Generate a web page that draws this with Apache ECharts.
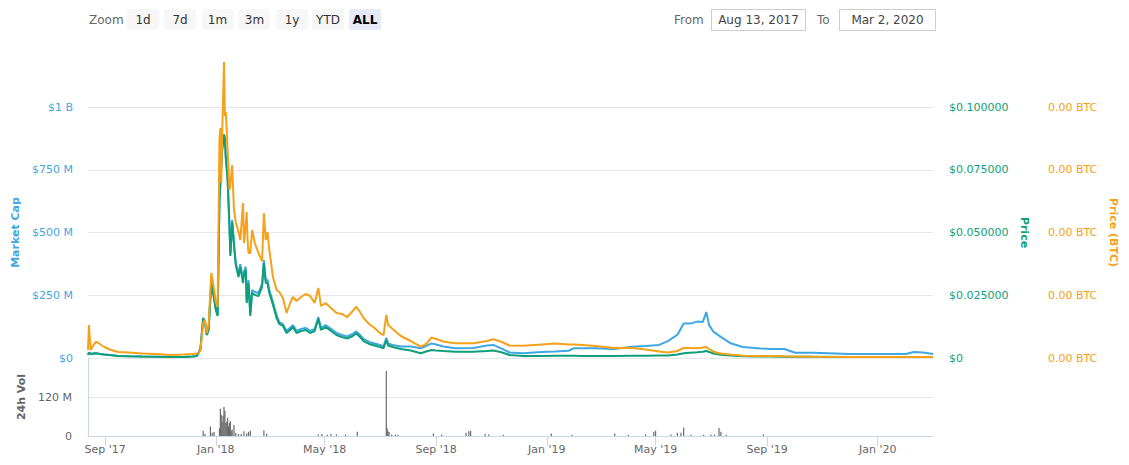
<!DOCTYPE html>
<html><head><meta charset="utf-8">
<script src="https://cdn.jsdelivr.net/npm/echarts@6/dist/echarts.min.js"></script>
<style>html,body{margin:0;padding:0;background:#fff}#c{width:1129px;height:465px}</style>
</head><body><div id="c"></div>
<script>
// ---- data ----
const dates = ['2017-08-13','2017-08-14','2017-08-16','2017-08-19','2017-08-22','2017-08-26','2017-08-31','2017-09-06','2017-09-15','2017-09-27',
'2017-10-12','2017-10-27','2017-11-11','2017-11-26','2017-12-06','2017-12-11','2017-12-15','2017-12-18','2017-12-20','2017-12-22',
'2017-12-24','2017-12-27','2017-12-29','2018-01-01','2018-01-03','2018-01-05','2018-01-06','2018-01-07','2018-01-08','2018-01-10',
'2018-01-11','2018-01-12','2018-01-14','2018-01-16','2018-01-17','2018-01-19','2018-01-21','2018-01-23','2018-01-26','2018-01-28',
'2018-01-31','2018-02-01','2018-02-03','2018-02-04','2018-02-05','2018-02-06','2018-02-08','2018-02-10','2018-02-13','2018-02-17',
'2018-02-21','2018-02-23','2018-02-25','2018-02-27','2018-03-01','2018-03-05','2018-03-09','2018-03-12','2018-03-16','2018-03-20',
'2018-03-24','2018-03-27','2018-03-31','2018-04-05','2018-04-10','2018-04-15','2018-04-20','2018-04-24','2018-04-27','2018-05-02',
'2018-05-08','2018-05-14','2018-05-20','2018-05-26','2018-06-01','2018-06-05','2018-06-09','2018-06-13','2018-06-19','2018-06-25',
'2018-07-01','2018-07-05','2018-07-08','2018-07-10','2018-07-15','2018-07-24','2018-08-04','2018-08-15','2018-08-21','2018-08-27',
'2018-09-01','2018-09-09','2018-09-22','2018-10-12','2018-10-27','2018-11-03','2018-11-11','2018-11-21','2018-12-06','2018-12-26',
'2019-01-10','2019-01-25','2019-01-31','2019-02-09','2019-02-24','2019-03-16','2019-04-05','2019-04-20','2019-05-05','2019-05-15',
'2019-05-25','2019-06-01','2019-06-08','2019-06-16','2019-06-22','2019-06-26','2019-06-29','2019-07-04','2019-07-12','2019-07-22',
'2019-08-05','2019-08-25','2019-09-05','2019-09-20','2019-10-02','2019-10-22','2019-12-01','2020-01-10','2020-02-01','2020-02-10',
'2020-02-20','2020-03-02'];

// Market cap, millions of USD
const marketCapM = [12,22,16,18,18.7,16,14,12,8,6.8,
5.6,4.8,4,4,6,8,35.9,159,143,92,
112,303,263,195,171,633,693,773,833,892,
872,801,713,530,414,550,458,378,335,374,
311,343,363,231,263,311,179,271,263,259,
295,390,311,311,271,223,171,143,135,108,
120,131,108,116,120,108,116,163,120,131,
116,100,92,86,96,106,92,76,64,58,
52,47,80,58,52,46,46,39,48,58,
54,46,39,40,50,52,39,22,19,24,
26,29,39,39,39,36,45,48,52,68,
92,137,137,145,143,183,131,104,84,60,
44,38,36,36,21,21,16,16,16,24,
22,16];

// Price, USD
const priceUsd = [0.00120,0.00219,0.00159,0.00179,0.00187,0.00159,0.00139,0.00120,0.00080,0.00068,
0.00056,0.00048,0.00040,0.00040,0.00060,0.00080,0.00359,0.01594,0.01434,0.00916,
0.01116,0.02988,0.02590,0.01912,0.01673,0.06295,0.06892,0.07689,0.08287,0.08884,
0.08685,0.07968,0.07092,0.05259,0.04064,0.05418,0.04502,0.03705,0.03227,0.03625,
0.02988,0.03307,0.03506,0.02191,0.02510,0.02988,0.01673,0.02590,0.02510,0.02470,
0.02829,0.03785,0.02988,0.02988,0.02590,0.02112,0.01594,0.01355,0.01275,0.00996,
0.01116,0.01235,0.00996,0.01076,0.01116,0.00996,0.01076,0.01554,0.01116,0.01235,
0.01076,0.00916,0.00837,0.00777,0.00876,0.00984,0.00837,0.00677,0.00558,0.00498,
0.00438,0.00386,0.00717,0.00498,0.00438,0.00359,0.00299,0.00187,0.00259,0.00319,
0.00299,0.00279,0.00251,0.00251,0.00279,0.00299,0.00239,0.00120,0.00080,0.00080,
0.00092,0.00088,0.00088,0.00084,0.00080,0.00080,0.00092,0.00092,0.00100,0.00100,
0.00139,0.00187,0.00207,0.00227,0.00247,0.00279,0.00239,0.00179,0.00127,0.00100,
0.00068,0.00056,0.00056,0.00052,0.00052,0.00048,0.00040,0.00040,0.00040,0.00040,
0.00040,0.00040];

// Price in BTC, expressed in satoshi (1e-8 BTC)
const priceSat = [31.9,131.5,31.9,51.8,64.9,55.8,43.8,33.9,23.9,21.9,
17.9,15.9,12,13.9,15.9,17.9,27.9,139.4,151.4,99.6,
131.5,338.6,298.8,223.1,203.2,868.5,916.3,697.2,896.4,1179.3,
964.1,980.1,828.7,669.3,689.2,768.9,589.6,541.8,502,470.1,
617.5,458.2,529.9,581.7,470.1,418.3,418.3,510,458.2,418.3,
386.4,577.7,470.1,502,430.3,322.7,270.9,262.9,239,179.3,
219.1,243,227.1,243,255,247,219.1,278.9,207.2,219.1,
199.2,179.3,175.3,163.3,187.2,204.4,183.3,159.4,135.5,119.5,
99.6,91.6,171.3,131.5,115.5,87.6,67.7,45,55.8,81.7,
75.7,65.7,58.6,58.6,67.7,74.5,65.7,49.8,49,53.8,
57.8,53.8,53.4,51.8,47.8,39.8,39.8,33.9,25.9,21.9,
27.9,39.8,39.8,38.6,41.8,43.8,35.9,25.1,17.9,13.9,
9.2,8,7.6,6.8,6.4,5.2,4,4,4,4,
4,4];

// 24h volume, millions of USD
const volDates = ['2017-12-18','2017-12-20','2017-12-26','2017-12-28','2017-12-30','2018-01-05','2018-01-06','2018-01-07','2018-01-08','2018-01-09',
'2018-01-10','2018-01-11','2018-01-12','2018-01-13','2018-01-14','2018-01-15','2018-01-16','2018-01-17','2018-01-18','2018-01-19',
'2018-01-21','2018-01-23','2018-01-26','2018-01-29','2018-02-01','2018-02-04','2018-02-06','2018-02-08','2018-02-23','2018-02-26',
'2018-04-24','2018-04-28','2018-05-04','2018-05-08','2018-05-14','2018-05-24','2018-06-06','2018-07-08','2018-07-09','2018-07-10',
'2018-07-11','2018-07-14','2018-07-18','2018-07-21','2018-08-29','2018-09-07','2018-10-04','2018-10-07','2018-10-09','2018-10-25',
'2018-10-29','2018-11-14','2019-01-06','2019-01-29','2019-03-17','2019-04-01','2019-04-20','2019-04-29','2019-05-01','2019-05-18',
'2019-05-25','2019-05-29','2019-06-01','2019-06-09','2019-06-23','2019-07-01','2019-07-05','2019-07-10','2019-07-12','2019-07-18',
'2019-08-28'];
const volumeM = [16,6,29,10,12,24,84,65,44,62,
90,78,40,44,56,30,40,46,16,20,
34,10,6,6,15,8,13,16,18,7,
5,6,4,6,5,4,13,200,24,14,
12,5,4,4,8,4,10,15,16,6,
5,4,8,4,8,4,5,13,16,5,
10,10,26,4,4,5,4,25,13,4,
5];

// axis ticks and labels
const xTickDates = ['2017-09-01','2018-01-01','2018-05-01','2018-09-01','2019-01-01','2019-05-01','2019-09-01','2020-01-01'];
const xTickLabels = ["Sep '17","Jan '18","May '18","Sep '18","Jan '19","May '19","Sep '19","Jan '20"];
const mcapTickLabels = ['$0','$250 M','$500 M','$750 M','$1 B'];
const priceTickLabels = ['$0','$0.025000','$0.050000','$0.075000','$0.100000'];
const btcTickLabels = ['0.00 BTC','0.00 BTC','0.00 BTC','0.00 BTC','0.00 BTC'];
const volTickLabels = ['0','120 M'];
const zoomButtons = ['1d','7d','1m','3m','1y','YTD','ALL'];
const rangeFrom = 'Aug 13, 2017';
const rangeTo = 'Mar 2, 2020';

// ---- chart ----
function ts(s){const p=s.split('-').map(Number);return Date.UTC(p[0],p[1]-1,p[2]);}
const BLUE='#3fa7e1', GREEN='#0e9f78', ORANGE='#f5a11a', GRAY='#666666';
const FONT='DejaVu Sans';
const xMin=ts('2017-08-13'), xMax=ts('2020-03-02');
const xTickTs = xTickDates.map(ts);
function xLabel(v){const i=xTickTs.indexOf(v);return i>=0?xTickLabels[i]:'';}

const chart = echarts.init(document.getElementById('c'), null, {renderer:'svg'});

const graphics = [];
graphics.push({type:'text', x:89, y:19.5, style:{text:'Zoom', fill:GRAY, fontSize:12, fontFamily:FONT, verticalAlign:'middle', textVerticalAlign:'middle'}});
const btnX=[127,164,201.5,238.5,276,312,349];
zoomButtons.forEach((b,i)=>{
  const sel = b==='ALL';
  graphics.push({type:'rect', shape:{x:btnX[i], y:9, width:32, height:21, r:2}, style:{fill: sel?'#e6ebf5':'#f7f7f7'}});
  graphics.push({type:'text', x:btnX[i]+16, y:19.5, style:{text:b, fill: sel?'#000':'#333', fontSize:12, fontFamily:FONT, fontWeight: sel?'bold':'normal', align:'center', verticalAlign:'middle', textAlign:'center', textVerticalAlign:'middle'}});
});
graphics.push({type:'text', x:674, y:19.5, style:{text:'From', fill:GRAY, fontSize:12, fontFamily:FONT, verticalAlign:'middle', textVerticalAlign:'middle'}});
graphics.push({type:'rect', shape:{x:711.5, y:9.5, width:94, height:21}, style:{fill:'#fff', stroke:'#cccccc', lineWidth:1}});
graphics.push({type:'text', x:758.5, y:19.5, style:{text:rangeFrom, fill:'#444', fontSize:12, fontFamily:FONT, align:'center', verticalAlign:'middle', textAlign:'center', textVerticalAlign:'middle'}});
graphics.push({type:'text', x:817, y:19.5, style:{text:'To', fill:GRAY, fontSize:12, fontFamily:FONT, verticalAlign:'middle', textVerticalAlign:'middle'}});
graphics.push({type:'rect', shape:{x:839.5, y:9.5, width:96, height:21}, style:{fill:'#fff', stroke:'#cccccc', lineWidth:1}});
graphics.push({type:'text', x:887.5, y:19.5, style:{text:rangeTo, fill:'#444', fontSize:12, fontFamily:FONT, align:'center', verticalAlign:'middle', textAlign:'center', textVerticalAlign:'middle'}});

const labelFont = {fontFamily:FONT, fontSize:11};
const nameFont = {fontFamily:FONT, fontSize:11, fontWeight:'bold'};

chart.setOption({
  animation:false,
  backgroundColor:'#fff',
  graphic: graphics,
  grid:[
    {left:88, top:107, width:845, height:251, containLabel:false},
    {left:88, top:358, width:845, height:78, containLabel:false}
  ],
  xAxis:[
    {type:'value', gridIndex:0, min:xMin, max:xMax, axisLine:{show:false}, axisTick:{show:false}, axisLabel:{show:false}, splitLine:{show:false}},
    {type:'value', gridIndex:1, min:xMin, max:xMax,
      axisLine:{show:true, onZero:false, lineStyle:{color:'#ccd6eb', width:1}},
      axisTick:{show:true, length:10, customValues:xTickTs, lineStyle:{color:'#ccd6eb'}},
      axisLabel:{customValues:xTickTs, color:GRAY, margin:8, ...labelFont, formatter:(v)=>xLabel(v)},
      splitLine:{show:false}}
  ],
  yAxis:[
    {type:'value', gridIndex:0, position:'left', min:0, max:1e9, interval:2.5e8,
      name:'Market Cap', nameLocation:'middle', nameGap:59, nameRotate:90, nameTextStyle:{color:BLUE, ...nameFont},
      axisLine:{show:false}, axisTick:{show:false},
      axisLabel:{color:BLUE, margin:15, ...labelFont, formatter:(v)=>mcapTickLabels[Math.round(v/2.5e8)]||''},
      splitLine:{lineStyle:{color:'#e6e6e6'}}},
    {type:'value', gridIndex:0, position:'right', min:0, max:0.1, interval:0.025,
      name:'Price', nameLocation:'middle', nameGap:76, nameRotate:-90, nameTextStyle:{color:GREEN, ...nameFont},
      axisLine:{show:false}, axisTick:{show:false},
      axisLabel:{color:GREEN, margin:16, ...labelFont, formatter:(v)=>priceTickLabels[Math.round(v/0.025)]||''},
      splitLine:{show:false}},
    {type:'value', gridIndex:0, position:'right', offset:99, min:0, max:1000, interval:250,
      name:'Price (BTC)', nameLocation:'middle', nameGap:68, nameRotate:-90, nameTextStyle:{color:ORANGE, ...nameFont},
      axisLine:{show:false}, axisTick:{show:false},
      axisLabel:{color:ORANGE, margin:16, ...labelFont, formatter:(v)=>btcTickLabels[Math.round(v/250)]||''},
      splitLine:{show:false}},
    {type:'value', gridIndex:1, position:'left', min:0, max:240e6, interval:120e6,
      name:'24h Vol', nameLocation:'middle', nameGap:55, nameRotate:90, nameTextStyle:{color:GRAY, ...nameFont},
      axisLine:{show:true, lineStyle:{color:'#ccd6eb'}}, axisTick:{show:false},
      axisLabel:{color:GRAY, margin:16, showMaxLabel:false, ...labelFont, formatter:(v)=>volTickLabels[Math.round(v/120e6)]||''},
      splitLine:{lineStyle:{color:'#e6e6e6'}}}
  ],
  series:[
    {name:'Market Cap', type:'line', xAxisIndex:0, yAxisIndex:0, showSymbol:false, z:2,
      lineStyle:{color:BLUE, width:2}, itemStyle:{color:BLUE},
      data: dates.map((d,i)=>[ts(d), marketCapM[i]*1e6])},
    {name:'Price', type:'line', xAxisIndex:0, yAxisIndex:1, showSymbol:false, z:3,
      lineStyle:{color:GREEN, width:2}, itemStyle:{color:GREEN},
      data: dates.map((d,i)=>[ts(d), priceUsd[i]])},
    {name:'Price (BTC)', type:'line', xAxisIndex:0, yAxisIndex:2, showSymbol:false, z:4, clip:false,
      lineStyle:{color:ORANGE, width:2}, itemStyle:{color:ORANGE},
      data: dates.map((d,i)=>[ts(d), priceSat[i]])},
    {name:'24h Vol', type:'bar', xAxisIndex:1, yAxisIndex:3, barWidth:1.2,
      itemStyle:{color:'#6b6b6b'},
      data: volDates.map((d,i)=>[ts(d), volumeM[i]*1e6])}
  ]
});
</script>
</body></html>
